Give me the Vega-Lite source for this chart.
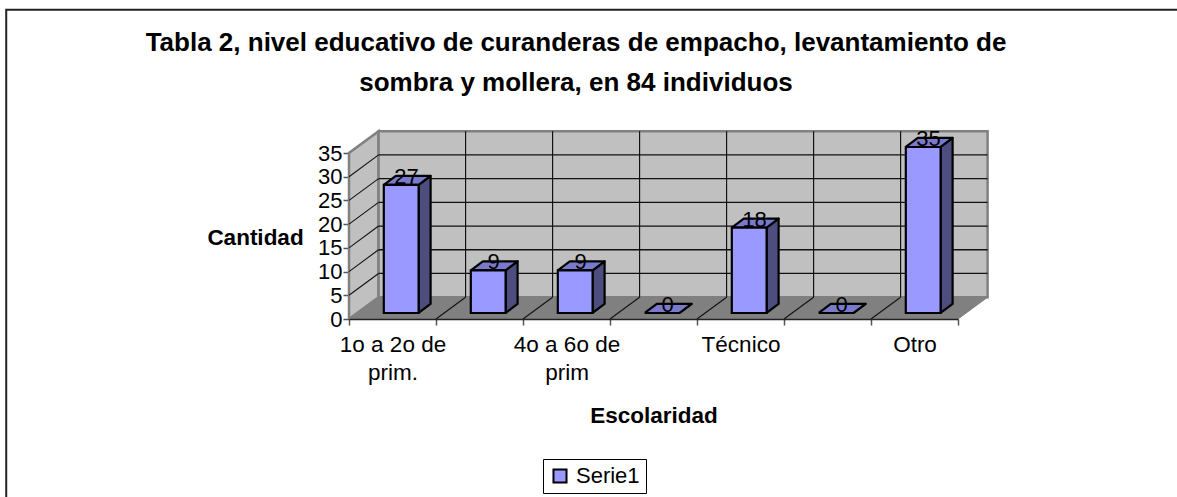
{
"$schema":"https://vega.github.io/schema/vega-lite/v6.json",
"width":638,"height":187,
"autosize":{"type":"none"},
"padding":{"left":349,"top":132,"right":190,"bottom":178},
"background":"white",
"config":{"view":{"stroke":null},"font":"Liberation Sans","text":{"font":"Liberation Sans"},
"axisY":{"zindex":1,"labelOverlap":false,"labelFlush":false,"grid":false,"domainColor":"#222222","domainWidth":1.5,"tickColor":"#555555","tickSize":6,"tickWidth":1.5,"labelFont":"Liberation Sans","labelFontSize":22,"labelColor":"black","labelPadding":1,"titleFont":"Liberation Sans","titleFontSize":22.5,"titleFontWeight":"bold","titleColor":"black","titleAngle":0,"titleAlign":"center","titleBaseline":"middle","titleX":-94,"titleY":105}},
"title":{"text":["Tabla 2, nivel educativo de curanderas de empacho, levantamiento de","sombra y mollera, en 84 individuos"],"font":"Liberation Sans","fontSize":26,"fontWeight":"bold","color":"black","anchor":"middle","dx":-92,"offset":-87,"lineHeight":40},
"datasets":{
"bars":[
{"cat":"1o a 2o de prim.","idx":0,"value":27,"serie":"Serie1"},
{"cat":"","idx":1,"value":9,"serie":"Serie1"},
{"cat":"4o a 6o de prim","idx":2,"value":9,"serie":"Serie1"},
{"cat":"","idx":3,"value":0,"serie":"Serie1"},
{"cat":"Técnico","idx":4,"value":18,"serie":"Serie1"},
{"cat":"","idx":5,"value":0,"serie":"Serie1"},
{"cat":"Otro","idx":6,"value":35,"serie":"Serie1"}
],
"levels":[{"v":5},{"v":10},{"v":15},{"v":20},{"v":25},{"v":30},{"v":35}],
"bounds":[{"b":1},{"b":2},{"b":3},{"b":4},{"b":5},{"b":6}],
"walls":[
{"face":"izquierda","xs":[0,0.34,0.34,0,0],"ys":[0,4.6,39.6,35,0],"ks":[0,1,2,3,4]},
{"face":"fondo","xs":[0.34,7.34,7.34,0.34,0.34],"ys":[4.6,4.6,39.6,39.6,4.6],"ks":[0,1,2,3,4]},
{"face":"piso","xs":[0,7,7.34,0.34,0],"ys":[0,0,4.6,4.6,0],"ks":[0,1,2,3,4]}
],
"marco":[{"x0":-3.94,"x1":9.67,"y0":65.2,"y1":-40.3}]
},
"data":{"name":"bars"},
"layer":[
{"data":{"name":"marco"},"mark":{"type":"rect","fillOpacity":0,"stroke":"#222222","strokeWidth":2},
 "encoding":{"x":{"field":"x0","type":"quantitative","axis":null},"x2":{"field":"x1"},
 "y":{"field":"y0","type":"quantitative","scale":{"domain":[0,35],"range":[187,21],"nice":false,"zero":false},"axis":{"values":[0,5,10,15,20,25,30,35],"title":"Cantidad"}},"y2":{"field":"y1"}}},
{"data":{"name":"walls"},"transform":[{"flatten":["xs","ys","ks"],"as":["px","py","k"]},{"filter":"datum.face!='piso'"}],
 "mark":{"type":"line","stroke":"#808080","strokeWidth":2.5,"fill":"#C0C0C0"},
 "encoding":{"detail":{"field":"face","type":"nominal"},"order":{"field":"k","type":"quantitative"},
 "x":{"field":"px","type":"quantitative","scale":{"domain":[0,7],"range":[0,609],"nice":false,"zero":false},"axis":{"orient":"bottom","zindex":1,"values":[0,1,2,3,4,5,6,7],"labels":false,"title":null,"grid":false,"domainColor":"#222222","domainWidth":1.5,"tickColor":"#555555","tickSize":6,"tickWidth":1.5}},
 "y":{"field":"py","type":"quantitative","axis":{"values":[0,5,10,15,20,25,30,35],"title":"Cantidad"}}}},
{"data":{"name":"walls"},"transform":[{"flatten":["xs","ys","ks"],"as":["px","py","k"]},{"filter":"datum.face=='piso'"}],
 "mark":{"type":"line","stroke":"#808080","strokeWidth":1,"fill":"#808080"},
 "encoding":{"detail":{"field":"face","type":"nominal"},"order":{"field":"k","type":"quantitative"},
 "x":{"field":"px","type":"quantitative","axis":null},"y":{"field":"py","type":"quantitative","axis":{"values":[0,5,10,15,20,25,30,35],"title":"Cantidad"}}}},
{"data":{"name":"levels"},"transform":[{"calculate":"datum.v+4.6","as":"vb"},{"filter":"datum.v<35"}],"mark":{"type":"rule","stroke":"#111111","strokeWidth":1.3},
 "encoding":{"x":{"datum":0.34,"type":"quantitative","axis":null},"x2":{"datum":7.34},"y":{"field":"vb","type":"quantitative","axis":{"values":[0,5,10,15,20,25,30,35],"title":"Cantidad"}}}},
{"data":{"name":"levels"},"transform":[{"calculate":"datum.v+4.6","as":"vb"},{"filter":"datum.v<35"}],"mark":{"type":"rule","stroke":"#111111","strokeWidth":1.1},
 "encoding":{"x":{"datum":0,"type":"quantitative","axis":null},"x2":{"datum":0.34},"y":{"field":"v","type":"quantitative","axis":{"values":[0,5,10,15,20,25,30,35],"title":"Cantidad"}},"y2":{"field":"vb"}}},
{"data":{"name":"bounds"},"transform":[{"calculate":"datum.b+0.34","as":"bb"},{"calculate":"4.6","as":"y0"},{"calculate":"39.6","as":"y1"}],"mark":{"type":"rule","stroke":"#111111","strokeWidth":1.2},
 "encoding":{"x":{"field":"bb","type":"quantitative","axis":null},"y":{"field":"y0","type":"quantitative","axis":{"values":[0,5,10,15,20,25,30,35],"title":"Cantidad"}},"y2":{"field":"y1"}}},
{"data":{"name":"bounds"},"transform":[{"calculate":"datum.b+0.34","as":"bb"},{"calculate":"0","as":"y0"},{"calculate":"4.6","as":"y1"}],"mark":{"type":"rule","stroke":"#111111","strokeWidth":1.1},
 "encoding":{"x":{"field":"b","type":"quantitative","axis":null},"x2":{"field":"bb"},"y":{"field":"y0","type":"quantitative","axis":{"values":[0,5,10,15,20,25,30,35],"title":"Cantidad"}},"y2":{"field":"y1"}}},
{"transform":[{"calculate":"[0,1,2,3,4]","as":"k"},{"flatten":["k"]},{"calculate":"datum.k%4","as":"c"},
 {"calculate":"datum.idx+0.8+((datum.c==1||datum.c==2)?0.138:0)","as":"px"},
 {"calculate":"1.27+(datum.c>=2?datum.value:0)+((datum.c==1||datum.c==2)?1.9:0)","as":"py"}],
 "mark":{"type":"line","fill":"#4D4D80","stroke":"black","strokeWidth":2.2,"strokeJoin":"round"},
 "encoding":{"detail":{"field":"idx","type":"nominal"},"order":{"field":"k","type":"quantitative"},"x":{"field":"px","type":"quantitative","axis":null},"y":{"field":"py","type":"quantitative","axis":{"values":[0,5,10,15,20,25,30,35],"title":"Cantidad"}}}},
{"transform":[{"calculate":"[0,1,2,3,4]","as":"k"},{"flatten":["k"]},{"calculate":"datum.k%4","as":"c"},
 {"calculate":"datum.idx+0.4+((datum.c==1||datum.c==2)?0.4:0)+(datum.c>=2?0.138:0)","as":"px"},
 {"calculate":"1.27+datum.value+(datum.c>=2?1.9:0)","as":"py"}],
 "mark":{"type":"line","fill":"#7A7ACC","stroke":"black","strokeWidth":2.2,"strokeJoin":"round"},
 "encoding":{"detail":{"field":"idx","type":"nominal"},"order":{"field":"k","type":"quantitative"},"x":{"field":"px","type":"quantitative","axis":null},"y":{"field":"py","type":"quantitative","axis":{"values":[0,5,10,15,20,25,30,35],"title":"Cantidad"}}}},
{"transform":[{"calculate":"datum.idx+0.4","as":"x0"},{"calculate":"datum.idx+0.8","as":"x1"},{"calculate":"1.27+datum.value","as":"top"},{"calculate":"1.27","as":"base"}],
 "mark":{"type":"rect","stroke":"black","strokeWidth":2.2},
 "encoding":{"x":{"field":"x0","type":"quantitative","axis":null},"x2":{"field":"x1"},"y":{"field":"base","type":"quantitative","axis":{"values":[0,5,10,15,20,25,30,35],"title":"Cantidad"}},"y2":{"field":"top"},
 "color":{"field":"serie","type":"nominal","title":null,"scale":{"range":["#9999FF"]},
 "legend":{"orient":"none","legendX":194,"legendY":327,"strokeColor":"black","padding":6,"symbolType":"square","symbolSize":170,"symbolStrokeColor":"black","symbolStrokeWidth":2,"symbolOpacity":1,"labelFont":"Liberation Sans","labelFontSize":22,"labelColor":"black","labelOffset":5}}}},
{"transform":[{"calculate":"datum.idx+0.5","as":"mid"}],
 "mark":{"type":"text","fontSize":22,"font":"Liberation Sans","color":"black","xOffset":14,"yOffset":-7,"baseline":"alphabetic","align":"center"},
 "encoding":{"text":{"field":"value","type":"quantitative"},
 "x":{"field":"mid","type":"quantitative","axis":{"orient":"bottom","values":[0.5,2.5,4.5,6.5],"title":"Escolaridad","ticks":false,"domain":false,"grid":false,"labelAngle":0,"labelOverlap":false,"labelAlign":"center","labelBaseline":"top","labelExpr":"datum.value==0.5?['1o a 2o de','prim.']:(datum.value==2.5?['4o a 6o de','prim']:(datum.value==4.5?'Técnico':'Otro'))","labelLineHeight":28,"labelFont":"Liberation Sans","labelFontSize":22.5,"labelColor":"black","labelPadding":14,"titleFont":"Liberation Sans","titleFontSize":22.5,"titleFontWeight":"bold","titleColor":"black","titleBaseline":"middle","titleY":96}},
 "y":{"field":"value","type":"quantitative","axis":{"values":[0,5,10,15,20,25,30,35],"title":"Cantidad"}}}}
],
"resolve":{"axis":{"x":"independent"}}
}
